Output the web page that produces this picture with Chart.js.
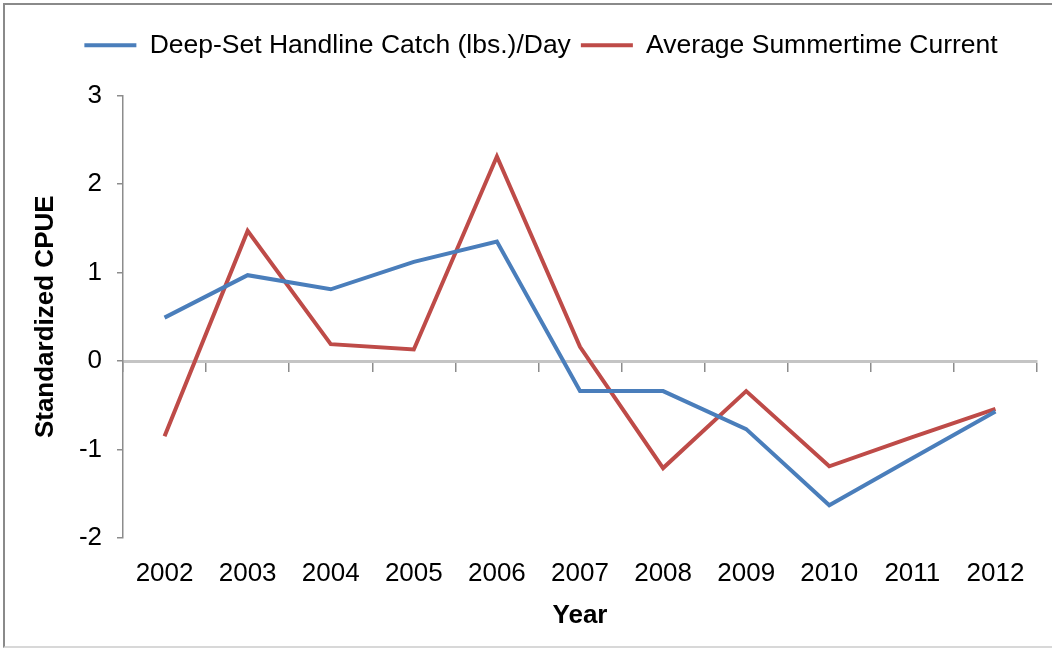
<!DOCTYPE html>
<html>
<head>
<meta charset="utf-8">
<title>Standardized CPUE</title>
<script src="https://cdn.jsdelivr.net/npm/chart.js@4.4.0/dist/chart.umd.min.js"></script>
<style>
  html, body { margin: 0; padding: 0; background: #fff; }
  #wrap { position: relative; width: 1052px; height: 653px; overflow: hidden; }
  #frame {
    position: absolute; left: 3px; top: 3px; width: 1100px; height: 641px;
    border-left: 2px solid #8a8a8a; border-top: 2px solid #8a8a8a; border-bottom: 2px solid #d8d8d8;
  }
  #chart { position: absolute; left: 0; top: 0; }
</style>
</head>
<body>
<div id="wrap">
  <div id="frame"></div>
  <canvas id="chart" width="1052" height="653"></canvas>
</div>
<script>
// values
var years = ['2002', '2003', '2004', '2005', '2006', '2007', '2008', '2009', '2010', '2011', '2012'];
var handlineCatch = [0.49, 0.97, 0.81, 1.12, 1.35, -0.34, -0.34, -0.77, -1.63, -1.10, -0.57];
var summerCurrent = [-0.85, 1.47, 0.19, 0.13, 2.31, 0.16, -1.21, -0.34, -1.19, -0.86, -0.54];
var yMin = -2;
var yMax = 3;
var yStep = 1;

var fontFamily = '"Liberation Sans", Arial, sans-serif';
var textColor = '#000';

// push the plot down below the legend a bit
var legendSpace = {
    id: 'legendSpace',
    beforeInit: function (chart) {
        var fit = chart.legend.fit;
        chart.legend.fit = function () {
            fit.bind(chart.legend)();
            this.height += 27;
        };
    }
};

var ctx = document.getElementById('chart').getContext('2d');
var myChart = new Chart(ctx, {
    type: 'line',
    data: {
        labels: years,
        datasets: [{
            label: 'Deep-Set Handline Catch (lbs.)/Day',
            data: handlineCatch,
            borderColor: '#4a7ebb',
            backgroundColor: '#4a7ebb',
            borderWidth: 4,
            pointRadius: 0,
            tension: 0
        }, {
            label: 'Average Summertime Current',
            data: summerCurrent,
            borderColor: '#be4b48',
            backgroundColor: '#be4b48',
            borderWidth: 4,
            pointRadius: 0,
            tension: 0
        }]
    },
    options: {
        responsive: false,
        animation: false,
        layout: { padding: { left: 45, right: 15, top: 22, bottom: 0 } },
        plugins: {
            legend: {
                position: 'top',
                labels: {
                    usePointStyle: true,
                    pointStyle: 'line',
                    pointStyleWidth: 52,
                    font: { family: fontFamily, size: 26.5 },
                    color: textColor,
                    padding: 10
                }
            },
            tooltip: { enabled: false }
        },
        scales: {
            x: {
                type: 'category',
                offset: true,
                grid: { display: false, drawTicks: false },
                border: { display: false },
                ticks: {
                    font: { family: fontFamily, size: 26 },
                    color: textColor,
                    padding: 20,
                    maxRotation: 0,
                    autoSkip: false
                },
                title: {
                    display: true,
                    text: 'Year',
                    color: textColor,
                    font: { family: fontFamily, size: 26, weight: 'bold' },
                    padding: { top: 0, bottom: 22 }
                },
                afterFit: function (scale) { scale.height = 115; }
            },
            xZero: {
                axis: 'x',
                type: 'category',
                position: { y: 0 },
                offset: true,
                grid: {
                    offset: true,
                    drawOnChartArea: false,
                    drawTicks: true,
                    tickLength: 9,
                    color: '#8c8c8c',
                    lineWidth: 1.5
                },
                border: { color: '#c4c4c4', width: 3 },
                ticks: { display: false }
            },
            y: {
                min: yMin,
                max: yMax,
                ticks: {
                    stepSize: yStep,
                    font: { family: fontFamily, size: 26 },
                    color: textColor,
                    padding: 15
                },
                grid: {
                    drawOnChartArea: false,
                    tickLength: 6,
                    color: '#8c8c8c',
                    lineWidth: 1.5
                },
                border: { color: '#8c8c8c', width: 1.5 },
                title: {
                    display: true,
                    text: 'Standardized CPUE',
                    color: textColor,
                    font: { family: fontFamily, size: 26, weight: 'bold' },
                    padding: { top: -14.6, bottom: 0 }
                },
                afterFit: function (scale) { scale.width = 78; }
            }
        }
    },
    plugins: [legendSpace]
});
</script>
</body>
</html>
